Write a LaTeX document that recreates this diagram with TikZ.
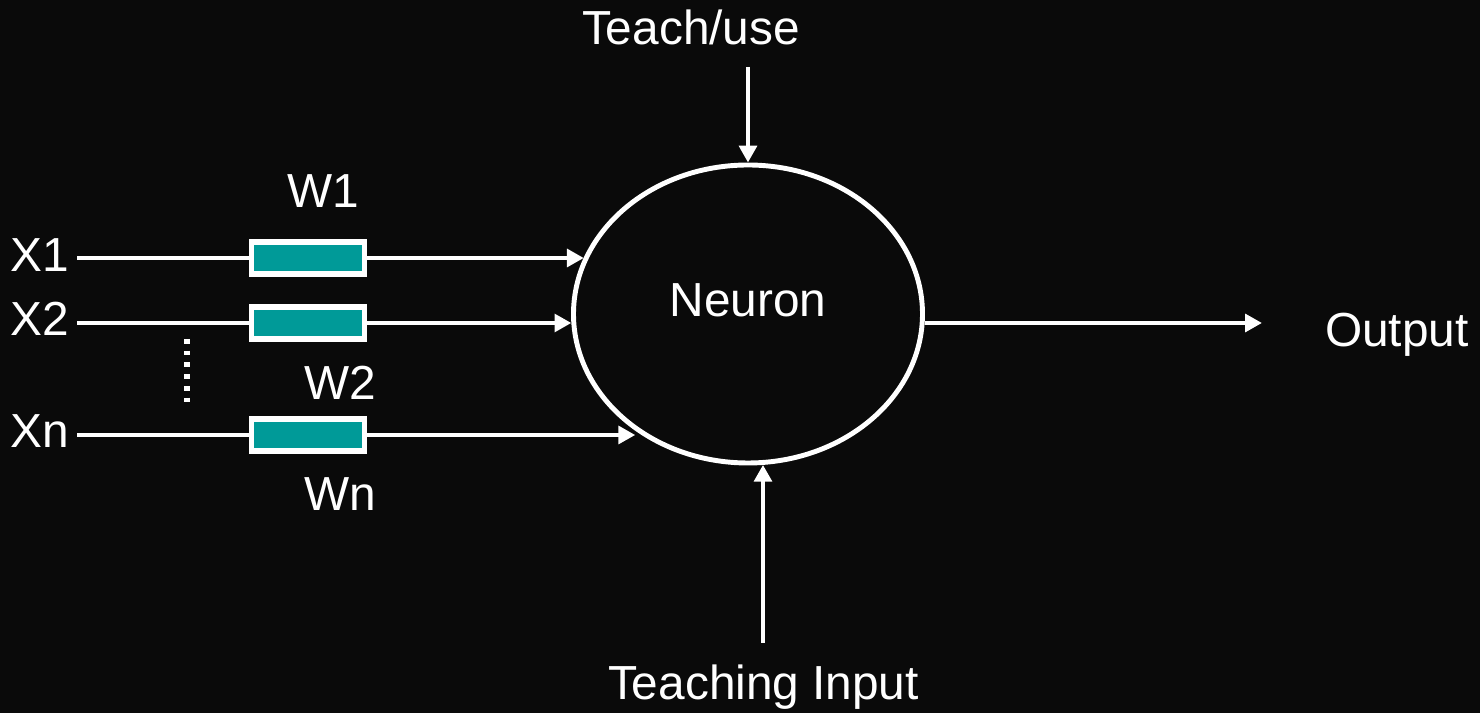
\documentclass[tikz,border=0pt]{standalone}
\usepackage{fontspec}
\setmainfont{Liberation Sans}
\usepackage{xcolor}
\usepackage{tikz}
\usetikzlibrary{arrows.meta, positioning, shapes.geometric}
\definecolor{bgcol}{RGB}{10,10,10}
\definecolor{weightcol}{RGB}{0,154,152}

\begin{document}
\begin{tikzpicture}[>={Triangle[length=4.8pt, width=5pt]},
    every path/.style={line width=1.4pt},
    txt/.style={text=white, font=\fontsize{13.6}{16}\selectfont, inner sep=0pt, outer sep=0pt},
    xin/.style={txt, anchor=base east, inner xsep=0.08cm},
    wbox/.style={draw=white, fill=weightcol, line width=1.6pt, minimum width=1.13cm,
                 minimum height=0.32cm, inner sep=0pt, outer sep=0pt}]

  % background
  \fill[bgcol] (0, 0) rectangle (14.8, 7.13);
  \useasboundingbox (0, 0) rectangle (14.8, 7.13);

  % neuron
  \node[ellipse, draw=white, minimum width=3.49cm, minimum height=2.98cm,
        inner sep=0pt] (neuron) at (7.48, 3.99) {};
  \node[txt, above=-0.03cm of neuron.center] (neuronlbl) {Neuron};

  % inputs
  \node[xin] (x1) at (0.77, 4.41) {X1};
  \node[xin] (x2) at (0.77, 3.77) {X2};
  \node[xin] (xn) at (0.77, 2.65) {Xn};

  % weights
  \node[wbox] (w1) at (3.08, 4.55) {};
  \node[wbox] (w2) at (3.08, 3.90) {};
  \node[wbox] (wn) at (3.08, 2.78) {};

  \node[txt, anchor=base west] (w1lbl) at (2.87, 5.05) {W1};
  \node[txt, anchor=base west] (w2lbl) at (3.04, 3.13) {W2};
  \node[txt, anchor=base west] (wnlbl) at (3.04, 2.02) {Wn};

  \draw[white] (x1.east |- w1) -- (w1.west);
  \draw[white] (x2.east |- w2) -- (w2.west);
  \draw[white] (xn.east |- wn) -- (wn.west);

  \draw[white, ->] (w1.east) -- (w1.east -| neuron.161);
  \draw[white, ->] (w2.east) -- (w2.east -| neuron.183);
  \draw[white, ->] (wn.east) -- (wn.east -| neuron.226);

  % dots between X2 and Xn
  \draw[white, line width=1.5pt, dash pattern=on 1.34pt off 2pt] (1.87, 3.74) -- (1.87, 3.11);

  % output
  \node[txt, anchor=base west] (out) at (13.25, 3.66) {Output};
  \coordinate (otip) at (12.62, 3.90);
  \draw[white, ->] (otip -| neuron.east) -- (otip);

  % teach/use
  \node[txt, anchor=base west] (teach) at (5.82, 6.68) {Teach/use};
  \coordinate (tutop) at (7.48, 6.46);
  \draw[white, ->] (tutop) -- (neuron.north);

  % teaching input
  \node[txt, anchor=base west] (tin) at (6.08, 0.13) {Teaching Input};
  \coordinate (tibot) at (7.63, 0.70);
  \draw[white, ->] (tibot) -- (tibot |- neuron.276);
\end{tikzpicture}
\end{document}
